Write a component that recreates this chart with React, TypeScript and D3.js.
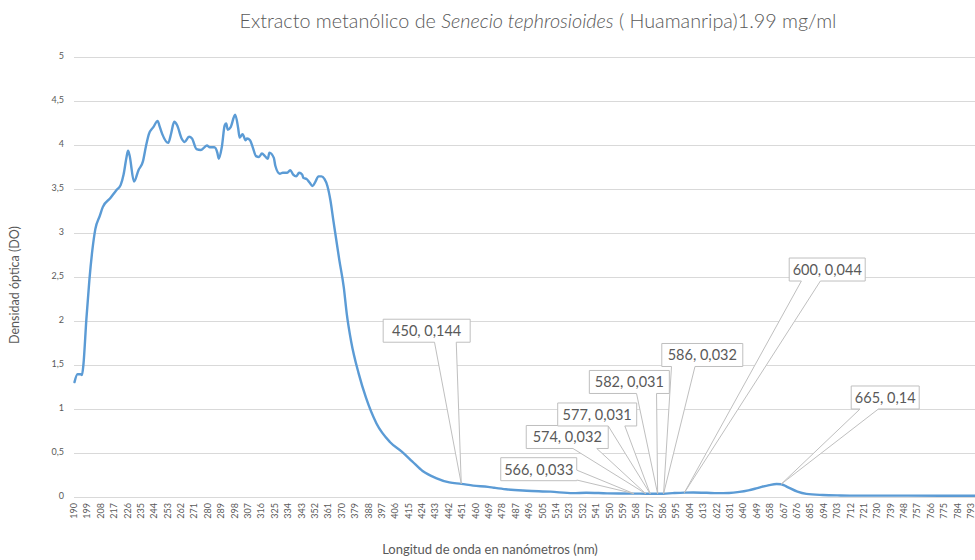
import { curveMonotoneX, line, scaleLinear } from "d3";

const waveNm = [
  190, 192, 194, 195, 196, 198, 200, 202, 204, 207, 209, 214, 218, 221, 223, 225, 226, 227, 230, 233,
  236, 238, 240, 243, 246, 247, 249, 253, 255, 257, 259, 262, 264, 267, 269, 272, 275, 279, 281, 284,
  286, 287, 289, 291, 292, 293, 295, 298, 300, 301, 303, 305, 306, 308, 310, 312, 314, 316, 318, 320,
  321, 324, 325, 328, 330, 333, 335, 337, 339, 341, 343, 344, 346, 348, 350, 352, 354, 356, 358, 360,
  362, 364, 368, 371, 373, 376, 381, 386, 393, 402, 410, 417, 424, 433, 442, 450, 458, 468, 472, 480,
  494, 510, 525, 534, 548, 556, 566, 574, 577, 582, 586, 592, 600, 606, 615, 622, 630, 637, 643, 649,
  657, 662, 665, 669, 676, 682, 693, 705, 716, 750, 795, 800
];

const opticalDensity = [
  1.3, 1.39, 1.39, 1.38, 1.5, 2.02, 2.46, 2.8, 3.04, 3.19, 3.29, 3.39, 3.48, 3.54, 3.66, 3.86, 3.93, 3.88, 3.58, 3.71,
  3.81, 3.98, 4.12, 4.2, 4.27, 4.22, 4.12, 4.02, 4.13, 4.26, 4.22, 4.07, 4.03, 4.09, 4.07, 3.95, 3.94, 3.99, 3.97, 3.97,
  3.91, 3.84, 3.97, 4.22, 4.24, 4.17, 4.2, 4.34, 4.19, 4.08, 4.12, 4.05, 4.07, 4.05, 3.96, 3.87, 3.86, 3.9, 3.87, 3.84,
  3.91, 3.85, 3.76, 3.67, 3.68, 3.68, 3.71, 3.66, 3.64, 3.68, 3.66, 3.62, 3.61, 3.57, 3.53, 3.58, 3.64, 3.64, 3.61, 3.53,
  3.37, 3.14, 2.69, 2.38, 2.08, 1.76, 1.4, 1.12, 0.83, 0.62, 0.51, 0.4, 0.29, 0.21, 0.16, 0.144, 0.123, 0.11, 0.1, 0.082,
  0.066, 0.055, 0.038, 0.043, 0.036, 0.034, 0.033, 0.032, 0.031, 0.031, 0.032, 0.038, 0.044, 0.045, 0.042, 0.038, 0.04, 0.052, 0.07, 0.095,
  0.13, 0.142, 0.14, 0.11, 0.055, 0.03, 0.017, 0.012, 0.01, 0.01, 0.008, 0.008
];

const xTickLabels = [
  190, 199, 208, 217, 226, 235, 244, 253, 262, 271, 280, 289, 298, 307, 316, 325, 334, 343, 352, 361,
  370, 379, 388, 397, 406, 415, 424, 433, 442, 451, 460, 469, 478, 487, 496, 505, 514, 523, 532, 541,
  550, 559, 568, 577, 586, 595, 604, 613, 622, 631, 640, 649, 658, 667, 676, 685, 694, 703, 712, 721,
  730, 739, 748, 757, 766, 775, 784, 793
];

const yTickValues = [0, 0.5, 1, 1.5, 2, 2.5, 3, 3.5, 4, 4.5, 5];

const labelledNm = [450, 566, 574, 577, 582, 586, 600, 665];
const labelledDo = [0.144, 0.033, 0.032, 0.031, 0.031, 0.032, 0.044, 0.14];

// callout box layout: offset of box centre from the point, box width, wedge side and base fractions
const calloutLayout = [
  { dx: -34.6, dy: -153.1, w: 87, side: "bottom", f: [0.59, 0.84] },
  { dx: -95.1, dy: -24.4, w: 76, side: "right", f: [0.54, 0.97] },
  { dx: -78.5, dy: -56.7, w: 82, side: "bottom", f: [0.57, 0.86] },
  { dx: -53, dy: -79.3, w: 79, side: "bottom", f: [0.64, 0.85] },
  { dx: -28.3, dy: -111.8, w: 80, side: "bottom", f: [0.59, 0.84] },
  { dx: 38.7, dy: -138.7, w: 81, side: "bottom", f: [0.12, 0.41] },
  { dx: 142.8, dy: -223.1, w: 76, side: "bottom", f: [0.16, 0.41] },
  { dx: 104.1, dy: -86.7, w: 68, side: "bottom", f: [0.13, 0.4] }
];

const width = 975;
const height = 560;
const plotLeft = 74.5;
const nmStep = 1.4876;
const zeroY = 496.5;
const topY = 56.7;
const boxH = 23;
const textColor = "#595959";
const font = "Lato, 'Open Sans', sans-serif";

function fmt(v: number) {
  return String(v).replace(".", ",");
}

function App() {
  const x = scaleLinear()
    .domain([190, 795])
    .range([plotLeft, plotLeft + 605 * nmStep]);
  const y = scaleLinear().domain([0, 5]).range([zeroY, topY]);

  const points = waveNm.map((nm, i) => ({ nm, v: opticalDensity[i] }));
  const path =
    line<{ nm: number; v: number }>()
      .x((d) => x(d.nm))
      .y((d) => y(d.v))
      .curve(curveMonotoneX)(points) ?? "";

  const callouts = labelledNm.map((nm, i) => {
    const tx = x(nm);
    const ty = y(labelledDo[i]);
    const lay = calloutLayout[i];
    const cx = tx + lay.dx;
    const cy = ty + lay.dy;
    const left = cx - lay.w / 2;
    const top = cy - boxH / 2;
    const right = left + lay.w;
    const bottom = top + boxH;
    let d = "";
    if (lay.side === "bottom") {
      const a = left + lay.w * lay.f[0];
      const b = left + lay.w * lay.f[1];
      d = `M${left},${top}H${right}V${bottom}H${b}L${tx},${ty}L${a},${bottom}H${left}Z`;
    } else {
      const a = top + boxH * lay.f[0];
      const b = top + boxH * lay.f[1];
      d = `M${left},${top}H${right}V${a}L${tx},${ty}L${right},${b}V${bottom}H${left}Z`;
    }
    return { d, cx, cy, label: `${nm}, ${fmt(labelledDo[i])}` };
  });

  return (
    <svg
      width={width}
      height={height}
      style={{ position: "absolute", left: 0, top: 0, background: "#fff" }}
      fontFamily={font}
    >
      <text
        x={538}
        y={28}
        textAnchor="middle"
        fontSize={19.8}
        fill={textColor}
        fontWeight={300}
      >
        Extracto metanólico de <tspan fontStyle="italic">Senecio tephrosioides</tspan> ( Huamanripa)1.99 mg/ml
      </text>

      {yTickValues.map((t) => (
        <g key={t}>
          <line
            x1={plotLeft - 0.5}
            x2={width}
            y1={Math.round(y(t)) + 0.5}
            y2={Math.round(y(t)) + 0.5}
            stroke="#d9d9d9"
            strokeWidth={1}
          />
          <text
            x={64}
            y={y(t)}
            textAnchor="end"
            dominantBaseline="middle"
            fontSize={9}
            fill={textColor}
          >
            {fmt(t)}
          </text>
        </g>
      ))}

      {xTickLabels.map((t) => (
        <text
          key={t}
          transform={`translate(${x(t) + 2.5},${503}) rotate(-90)`}
          textAnchor="end"
          fontSize={9}
          fill={textColor}
        >
          {t}
        </text>
      ))}

      <text
        transform={`translate(19,285) rotate(-90)`}
        textAnchor="middle"
        fontSize={12.5}
        fill={textColor}
      >
        Densidad óptica (DO)
      </text>
      <text x={490} y={554} textAnchor="middle" fontSize={13} fill={textColor}>
        Longitud de onda en nanómetros (nm)
      </text>

      <path
        d={path}
        fill="none"
        stroke="#5b9bd5"
        strokeWidth={2.4}
        strokeLinejoin="round"
        strokeLinecap="round"
      />

      {callouts.map((c, i) => (
        <g key={i}>
          <path d={c.d} fill="#fff" stroke="#bfbfbf" strokeWidth={1} />
          <text
            x={c.cx}
            y={c.cy}
            textAnchor="middle"
            dominantBaseline="central"
            fontSize={14.5}
            fill={textColor}
          >
            {c.label}
          </text>
        </g>
      ))}
    </svg>
  );
}

export default App;
